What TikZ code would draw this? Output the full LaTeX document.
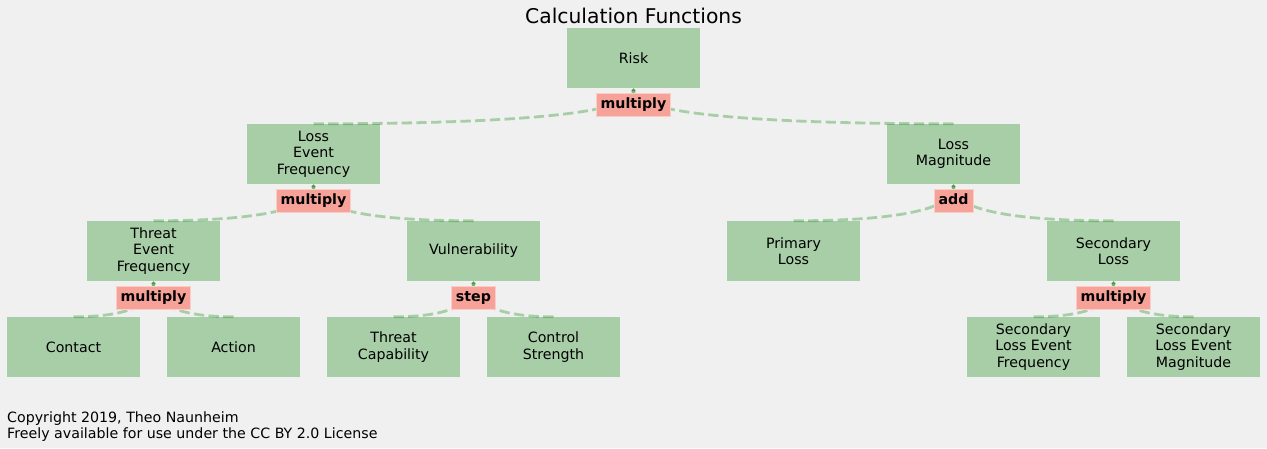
\documentclass[tikz,border=0pt]{standalone}
\usepackage{fontspec}
\setmainfont{DejaVu Sans}
\usetikzlibrary{calc,arrows.meta}
\definecolor{bg}{HTML}{F0F0F0}
\definecolor{mplgreen}{RGB}{0,128,0}
\definecolor{boxgreen}{RGB}{168,206,168}
\definecolor{labsalmon}{RGB}{247,162,152}
\definecolor{labedge}{RGB}{250,205,198}
\newcommand\treeconn[2]{%
  \draw[conn] (#2.north) .. controls ($(#2.north)!2/3!(#1.south |- #2.north)$)
    and ($(#1.south)!2/3!(#1.south |- #2.north)$) .. (#1.south);}
\begin{document}
\begin{tikzpicture}[x=1pt,y=-1pt,
  box/.style={fill=boxgreen, minimum width=133pt, minimum height=60pt, inner sep=0pt,
    align=center, font=\fontsize{14.2}{16.4}\selectfont},
  lab/.style={fill=labsalmon, draw=labedge, line width=0.8pt, inner xsep=4.5pt, inner ysep=0pt,
    text height=10.7pt, text depth=3pt, minimum height=23pt,
    font=\fontsize{14.2}{16.4}\selectfont\bfseries},
  conn/.style={draw=mplgreen, opacity=0.3, line width=2.8pt,
    dash pattern=on 10.3pt off 4.4pt, -{Triangle[width=5pt,length=3pt]}}]
\useasboundingbox (0,0) rectangle (1267,448);
\fill[bg] (0,0) rectangle (1267,448);

\node[font=\fontsize{20.3}{24}\selectfont] (title) at (633.5,16) {Calculation Functions};

\node[box] (risk) at (633.5,58) {Risk};
\node[box] (lef) at (313.5,154) {Loss\\Event\\Frequency};
\node[box] (lm) at (953.5,154) {Loss\\Magnitude};
\node[box] (tef) at (153.5,251) {Threat\\Event\\Frequency};
\node[box] (vuln) at (473.5,251) {Vulnerability};
\node[box] (pl) at (793.5,251) {Primary\\Loss};
\node[box] (sl) at (1113.5,251) {Secondary\\Loss};
\node[box] (contact) at (73.5,347) {Contact};
\node[box] (action) at (233.5,347) {Action};
\node[box] (tc) at (393.5,347) {Threat\\Capability};
\node[box] (cs) at (553.5,347) {Control\\Strength};
\node[box] (slef) at (1033.5,347) {Secondary\\Loss Event\\Frequency};
\node[box] (slem) at (1193.5,347) {Secondary\\Loss Event\\Magnitude};

\treeconn{risk}{lef}
\treeconn{risk}{lm}
\treeconn{lef}{tef}
\treeconn{lef}{vuln}
\treeconn{lm}{pl}
\treeconn{lm}{sl}
\treeconn{tef}{contact}
\treeconn{tef}{action}
\treeconn{vuln}{tc}
\treeconn{vuln}{cs}
\treeconn{sl}{slef}
\treeconn{sl}{slem}

\node[lab] (opRisk) at (633.5,104.5) {multiply};
\node[lab] (opLef) at (313.5,200.5) {multiply};
\node[lab] (opLm) at (953.5,200.5) {add};
\node[lab] (opTef) at (153.5,297.5) {multiply};
\node[lab] (opVuln) at (473.5,297.5) {step};
\node[lab] (opSl) at (1113.5,297.5) {multiply};

\node[anchor=north west, inner sep=0pt, align=left, font=\fontsize{14.2}{16}\selectfont]
  (copy) at (7,412) {Copyright 2019, Theo Naunheim\\Freely available for use under the CC BY 2.0 License};
\end{tikzpicture}
\end{document}
